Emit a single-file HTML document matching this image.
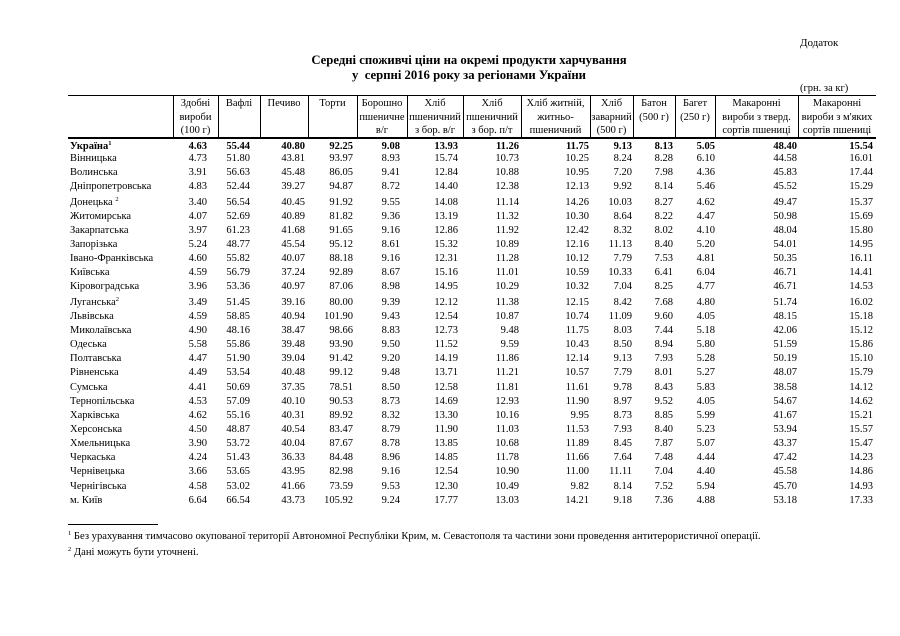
<!DOCTYPE html>
<html><head><meta charset="utf-8"><style>
body{margin:0;background:#fff;}
#p{position:relative;width:900px;height:636px;font-family:"Liberation Serif",serif;font-size:10.5px;color:#000;overflow:hidden}
.a{position:absolute;white-space:nowrap;line-height:12px}
.t{position:absolute;left:19px;width:900px;text-align:center;font-weight:bold;font-size:12.7px}
.hl{position:absolute;background:#000;height:1px}
.vl{position:absolute;background:#000;width:1px;top:95px;height:43px}
.h{position:absolute;text-align:center;line-height:13.5px;top:97px;font-size:10.5px;white-space:nowrap}
.r{position:absolute;left:0;width:900px;height:12px}
.r span{position:absolute;top:0;white-space:nowrap;line-height:12px}
.r span:nth-child(1){left:70px}
.r span:nth-child(2){right:693px}
.r span:nth-child(3){right:650px}
.r span:nth-child(4){right:595px}
.r span:nth-child(5){right:547px}
.r span:nth-child(6){right:500px}
.r span:nth-child(7){right:442px}
.r span:nth-child(8){right:381px}
.r span:nth-child(9){right:311px}
.r span:nth-child(10){right:268px}
.r span:nth-child(11){right:227px}
.r span:nth-child(12){right:185px}
.r span:nth-child(13){right:103px}
.r span:nth-child(14){right:27px}
.b{font-weight:bold}
sup{font-size:6.5px;vertical-align:4px;line-height:0}
</style></head><body><div id="p">
<div class="a" style="left:800px;top:37px;font-size:11px">Додаток</div>
<div class="t" style="top:53px">Середні споживчі ціни на окремі продукти харчування</div>
<div class="t" style="top:68px">у&nbsp; серпні 2016 року за регіонами України</div>
<div class="a" style="left:800px;top:83px">(грн. за кг)</div>
<div class="hl" style="left:68px;width:808px;top:95px"></div>
<div class="hl" style="left:68px;width:808px;top:137px;height:1.5px"></div>
<div class="vl" style="left:173px"></div><div class="vl" style="left:218px"></div><div class="vl" style="left:260px"></div><div class="vl" style="left:308px"></div><div class="vl" style="left:357px"></div><div class="vl" style="left:407px"></div><div class="vl" style="left:463px"></div><div class="vl" style="left:521px"></div><div class="vl" style="left:590px"></div><div class="vl" style="left:633px"></div><div class="vl" style="left:675px"></div><div class="vl" style="left:715px"></div><div class="vl" style="left:798px"></div>
<div class="h" style="left:173px;width:45px">Здобні<br>вироби<br>(100 г)</div>
<div class="h" style="left:218px;width:42px">Вафлі</div>
<div class="h" style="left:260px;width:48px">Печиво</div>
<div class="h" style="left:308px;width:49px">Торти</div>
<div class="h" style="left:357px;width:50px">Борошно<br>пшеничне<br>в/г</div>
<div class="h" style="left:407px;width:56px">Хліб<br>пшеничний<br>з бор. в/г</div>
<div class="h" style="left:463px;width:58px">Хліб<br>пшеничний<br>з бор. п/т</div>
<div class="h" style="left:521px;width:69px">Хліб житній,<br>житньо-<br>пшеничний</div>
<div class="h" style="left:590px;width:43px">Хліб<br>заварний<br>(500 г)</div>
<div class="h" style="left:633px;width:42px">Батон<br>(500 г)</div>
<div class="h" style="left:675px;width:40px">Багет<br>(250 г)</div>
<div class="h" style="left:715px;width:83px">Макаронні<br>вироби з тверд.<br>сортів пшениці</div>
<div class="h" style="left:798px;width:78px">Макаронні<br>вироби з м'яких<br>сортів пшениці</div>

<div class="r b" style="top:141px"><span>Україна<sup>1</sup></span><span>4.63</span><span>55.44</span><span>40.80</span><span>92.25</span><span>9.08</span><span>13.93</span><span>11.26</span><span>11.75</span><span>9.13</span><span>8.13</span><span>5.05</span><span>48.40</span><span>15.54</span></div>
<div class="r" style="top:153px"><span>Вінницька</span><span>4.73</span><span>51.80</span><span>43.81</span><span>93.97</span><span>8.93</span><span>15.74</span><span>10.73</span><span>10.25</span><span>8.24</span><span>8.28</span><span>6.10</span><span>44.58</span><span>16.01</span></div>
<div class="r" style="top:167px"><span>Волинська</span><span>3.91</span><span>56.63</span><span>45.48</span><span>86.05</span><span>9.41</span><span>12.84</span><span>10.88</span><span>10.95</span><span>7.20</span><span>7.98</span><span>4.36</span><span>45.83</span><span>17.44</span></div>
<div class="r" style="top:181px"><span>Дніпропетровська</span><span>4.83</span><span>52.44</span><span>39.27</span><span>94.87</span><span>8.72</span><span>14.40</span><span>12.38</span><span>12.13</span><span>9.92</span><span>8.14</span><span>5.46</span><span>45.52</span><span>15.29</span></div>
<div class="r" style="top:197px"><span>Донецька <sup>2</sup></span><span>3.40</span><span>56.54</span><span>40.45</span><span>91.92</span><span>9.55</span><span>14.08</span><span>11.14</span><span>14.26</span><span>10.03</span><span>8.27</span><span>4.62</span><span>49.47</span><span>15.37</span></div>
<div class="r" style="top:211px"><span>Житомирська</span><span>4.07</span><span>52.69</span><span>40.89</span><span>81.82</span><span>9.36</span><span>13.19</span><span>11.32</span><span>10.30</span><span>8.64</span><span>8.22</span><span>4.47</span><span>50.98</span><span>15.69</span></div>
<div class="r" style="top:225px"><span>Закарпатська</span><span>3.97</span><span>61.23</span><span>41.68</span><span>91.65</span><span>9.16</span><span>12.86</span><span>11.92</span><span>12.42</span><span>8.32</span><span>8.02</span><span>4.10</span><span>48.04</span><span>15.80</span></div>
<div class="r" style="top:239px"><span>Запорізька</span><span>5.24</span><span>48.77</span><span>45.54</span><span>95.12</span><span>8.61</span><span>15.32</span><span>10.89</span><span>12.16</span><span>11.13</span><span>8.40</span><span>5.20</span><span>54.01</span><span>14.95</span></div>
<div class="r" style="top:253px"><span>Івано-Франківська</span><span>4.60</span><span>55.82</span><span>40.07</span><span>88.18</span><span>9.16</span><span>12.31</span><span>11.28</span><span>10.12</span><span>7.79</span><span>7.53</span><span>4.81</span><span>50.35</span><span>16.11</span></div>
<div class="r" style="top:267px"><span>Київська</span><span>4.59</span><span>56.79</span><span>37.24</span><span>92.89</span><span>8.67</span><span>15.16</span><span>11.01</span><span>10.59</span><span>10.33</span><span>6.41</span><span>6.04</span><span>46.71</span><span>14.41</span></div>
<div class="r" style="top:281px"><span>Кіровоградська</span><span>3.96</span><span>53.36</span><span>40.97</span><span>87.06</span><span>8.98</span><span>14.95</span><span>10.29</span><span>10.32</span><span>7.04</span><span>8.25</span><span>4.77</span><span>46.71</span><span>14.53</span></div>
<div class="r" style="top:297px"><span>Луганська<sup>2</sup></span><span>3.49</span><span>51.45</span><span>39.16</span><span>80.00</span><span>9.39</span><span>12.12</span><span>11.38</span><span>12.15</span><span>8.42</span><span>7.68</span><span>4.80</span><span>51.74</span><span>16.02</span></div>
<div class="r" style="top:311px"><span>Львівська</span><span>4.59</span><span>58.85</span><span>40.94</span><span>101.90</span><span>9.43</span><span>12.54</span><span>10.87</span><span>10.74</span><span>11.09</span><span>9.60</span><span>4.05</span><span>48.15</span><span>15.18</span></div>
<div class="r" style="top:325px"><span>Миколаївська</span><span>4.90</span><span>48.16</span><span>38.47</span><span>98.66</span><span>8.83</span><span>12.73</span><span>9.48</span><span>11.75</span><span>8.03</span><span>7.44</span><span>5.18</span><span>42.06</span><span>15.12</span></div>
<div class="r" style="top:339px"><span>Одеська</span><span>5.58</span><span>55.86</span><span>39.48</span><span>93.90</span><span>9.50</span><span>11.52</span><span>9.59</span><span>10.43</span><span>8.50</span><span>8.94</span><span>5.80</span><span>51.59</span><span>15.86</span></div>
<div class="r" style="top:353px"><span>Полтавська</span><span>4.47</span><span>51.90</span><span>39.04</span><span>91.42</span><span>9.20</span><span>14.19</span><span>11.86</span><span>12.14</span><span>9.13</span><span>7.93</span><span>5.28</span><span>50.19</span><span>15.10</span></div>
<div class="r" style="top:367px"><span>Рівненська</span><span>4.49</span><span>53.54</span><span>40.48</span><span>99.12</span><span>9.48</span><span>13.71</span><span>11.21</span><span>10.57</span><span>7.79</span><span>8.01</span><span>5.27</span><span>48.07</span><span>15.79</span></div>
<div class="r" style="top:382px"><span>Сумська</span><span>4.41</span><span>50.69</span><span>37.35</span><span>78.51</span><span>8.50</span><span>12.58</span><span>11.81</span><span>11.61</span><span>9.78</span><span>8.43</span><span>5.83</span><span>38.58</span><span>14.12</span></div>
<div class="r" style="top:396px"><span>Тернопільська</span><span>4.53</span><span>57.09</span><span>40.10</span><span>90.53</span><span>8.73</span><span>14.69</span><span>12.93</span><span>11.90</span><span>8.97</span><span>9.52</span><span>4.05</span><span>54.67</span><span>14.62</span></div>
<div class="r" style="top:410px"><span>Харківська</span><span>4.62</span><span>55.16</span><span>40.31</span><span>89.92</span><span>8.32</span><span>13.30</span><span>10.16</span><span>9.95</span><span>8.73</span><span>8.85</span><span>5.99</span><span>41.67</span><span>15.21</span></div>
<div class="r" style="top:424px"><span>Херсонська</span><span>4.50</span><span>48.87</span><span>40.54</span><span>83.47</span><span>8.79</span><span>11.90</span><span>11.03</span><span>11.53</span><span>7.93</span><span>8.40</span><span>5.23</span><span>53.94</span><span>15.57</span></div>
<div class="r" style="top:438px"><span>Хмельницька</span><span>3.90</span><span>53.72</span><span>40.04</span><span>87.67</span><span>8.78</span><span>13.85</span><span>10.68</span><span>11.89</span><span>8.45</span><span>7.87</span><span>5.07</span><span>43.37</span><span>15.47</span></div>
<div class="r" style="top:452px"><span>Черкаська</span><span>4.24</span><span>51.43</span><span>36.33</span><span>84.48</span><span>8.96</span><span>14.85</span><span>11.78</span><span>11.66</span><span>7.64</span><span>7.48</span><span>4.44</span><span>47.42</span><span>14.23</span></div>
<div class="r" style="top:466px"><span>Чернівецька</span><span>3.66</span><span>53.65</span><span>43.95</span><span>82.98</span><span>9.16</span><span>12.54</span><span>10.90</span><span>11.00</span><span>11.11</span><span>7.04</span><span>4.40</span><span>45.58</span><span>14.86</span></div>
<div class="r" style="top:481px"><span>Чернігівська</span><span>4.58</span><span>53.02</span><span>41.66</span><span>73.59</span><span>9.53</span><span>12.30</span><span>10.49</span><span>9.82</span><span>8.14</span><span>7.52</span><span>5.94</span><span>45.70</span><span>14.93</span></div>
<div class="r" style="top:495px"><span>м. Київ</span><span>6.64</span><span>66.54</span><span>43.73</span><span>105.92</span><span>9.24</span><span>17.77</span><span>13.03</span><span>14.21</span><span>9.18</span><span>7.36</span><span>4.88</span><span>53.18</span><span>17.33</span></div>

<div class="hl" style="left:68px;width:90px;top:524px"></div>
<div class="a" style="left:68px;top:531px;font-size:10.6px"><sup>1</sup> Без урахування тимчасово окупованої території Автономної Республіки Крим, м. Севастополя та частини зони проведення антитерористичної операції.</div>
<div class="a" style="left:68px;top:547px;font-size:10.6px"><sup>2</sup> Дані можуть бути уточнені.</div>
</div></body></html>
